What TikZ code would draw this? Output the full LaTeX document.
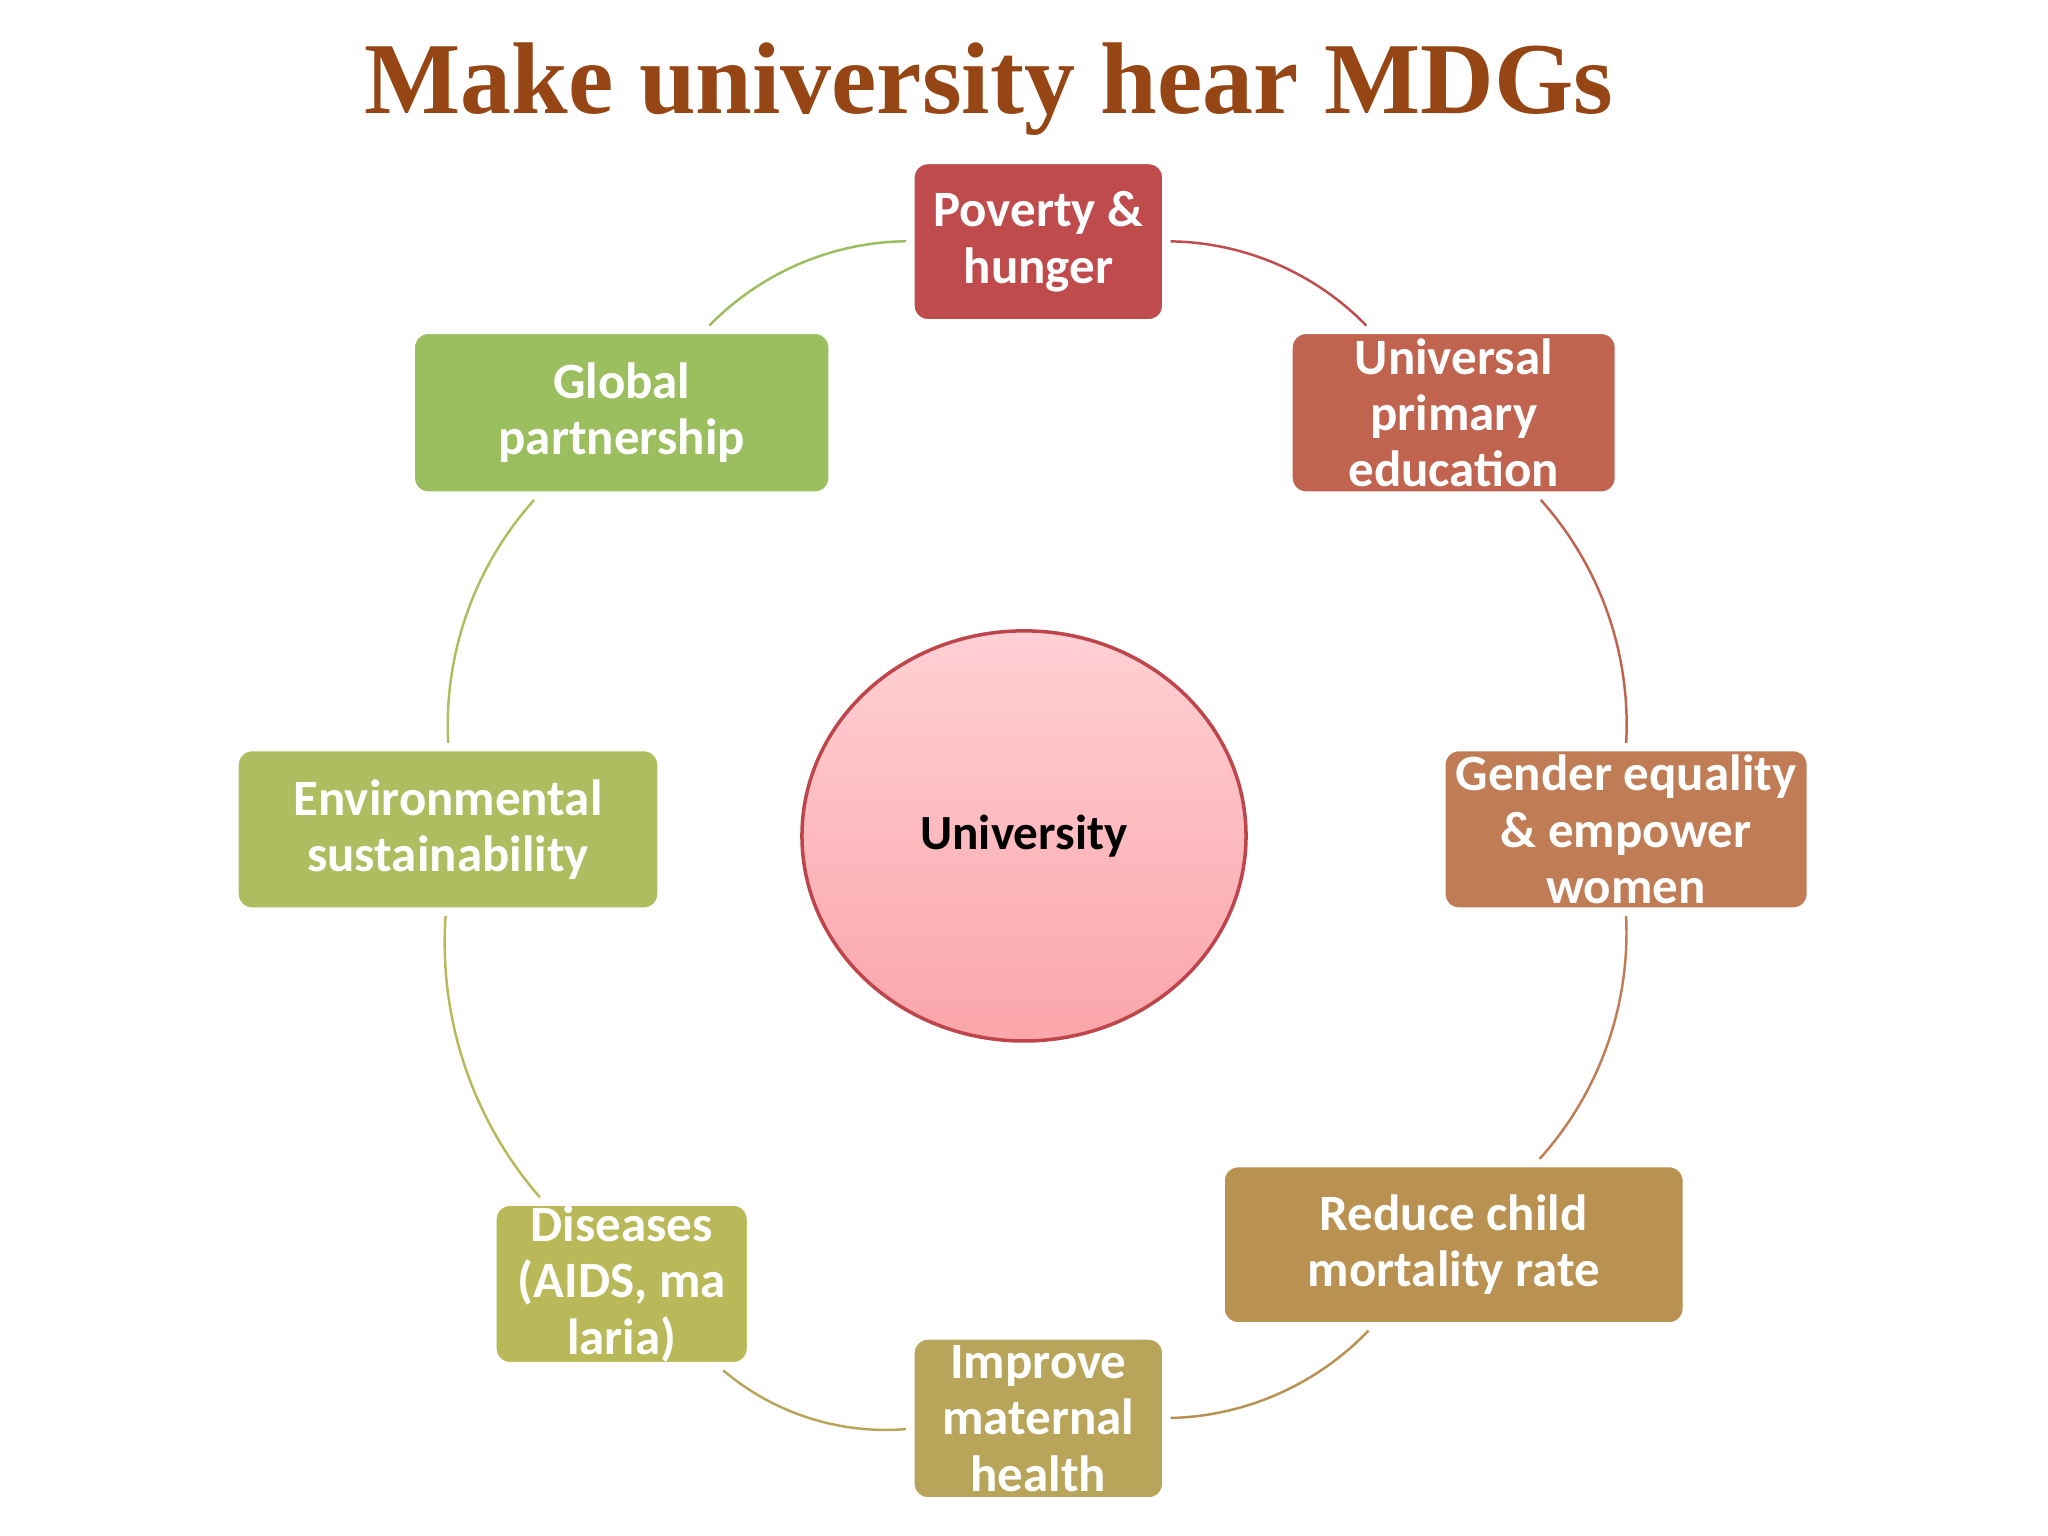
\documentclass[tikz,border=0pt]{standalone}
\usepackage{fontspec}
\setmainfont{Carlito}
\newfontfamily\titlefont{Liberation Serif}
\usetikzlibrary{shadows,shapes.geometric}
\definecolor{cA}{RGB}{192,75,77}
\definecolor{cB}{RGB}{192,100,80}
\definecolor{cC}{RGB}{192,125,85}
\definecolor{cD}{RGB}{185,145,80}
\definecolor{cE}{RGB}{185,165,90}
\definecolor{cF}{RGB}{185,185,90}
\definecolor{cG}{RGB}{172,190,95}
\definecolor{cH}{RGB}{155,190,95}
\definecolor{titlec}{RGB}{150,70,20}
\definecolor{uniTop}{RGB}{255,208,212}
\definecolor{uniBot}{RGB}{250,165,170}
\definecolor{uniBd}{RGB}{190,70,75}
\tikzset{
  goal/.style={draw=white, line width=2.4pt, rounded corners=5pt, text=white,
    font=\bfseries\fontsize{14.5}{16}\selectfont, align=center, inner sep=0pt,
    drop shadow={opacity=0.35, shadow xshift=0.6pt, shadow yshift=-0.9pt}},
  arcl/.style={line width=0.7pt, bend left=22.5, looseness=0.886}
}
\begin{document}
\begin{tikzpicture}[x=0.013061cm, y=-0.013061cm]
\useasboundingbox (0,0) rectangle (1568,1176);
\fill[white] (0,0) rectangle (1568,1176);
\node[font=\titlefont\bfseries\fontsize{29}{32}\selectfont, text=titlec] (title) at (757,68) {Make university hear MDGs};
\node[goal, fill=cA, minimum width=196*0.013061cm, minimum height=125*0.013061cm] (pov) at (795,185) {Poverty \&\\hunger};
\node[goal, fill=cB, minimum width=253*0.013061cm, minimum height=127*0.013061cm] (uni) at (1113,316) {Universal\\primary\\education};
\node[goal, fill=cC, minimum width=283*0.013061cm, minimum height=126*0.013061cm] (gen) at (1245,635) {Gender equality\\\& empower\\women};
\node[goal, fill=cD, minimum width=357*0.013061cm, minimum height=125*0.013061cm] (red) at (1113,953) {Reduce child\\mortality rate};
\node[goal, fill=cE, minimum width=196*0.013061cm, minimum height=127*0.013061cm] (imp) at (795,1086) {Improve\\maternal\\health};
\node[goal, fill=cF, minimum width=198*0.013061cm, minimum height=126*0.013061cm] (dis) at (476,983) {Diseases\\(AIDS, ma\\laria)};
\node[goal, fill=cG, minimum width=327*0.013061cm, minimum height=126*0.013061cm] (env) at (343,635) {Environmental\\sustainability};
\node[goal, fill=cH, minimum width=323*0.013061cm, minimum height=127*0.013061cm] (glo) at (476,316) {Global\\partnership};
\node[ellipse, draw=uniBd, line width=1pt, top color=uniTop, bottom color=uniBot,
  minimum width=340*0.013061cm, minimum height=314*0.013061cm,
  font=\bfseries\fontsize{14}{16}\selectfont] (u) at (784,640) {University};
\draw[arcl, draw=cA] (pov) to (uni);
\draw[arcl, draw=cB] (uni) to (gen);
\draw[arcl, draw=cC] (gen) to (red);
\draw[arcl, draw=cD] (red) to (imp);
\draw[arcl, draw=cE] (imp) to (dis);
\draw[arcl, draw=cF] (dis) to (env);
\draw[arcl, draw=cG] (env) to (glo);
\draw[arcl, draw=cH] (glo) to (pov);
\end{tikzpicture}
\end{document}
